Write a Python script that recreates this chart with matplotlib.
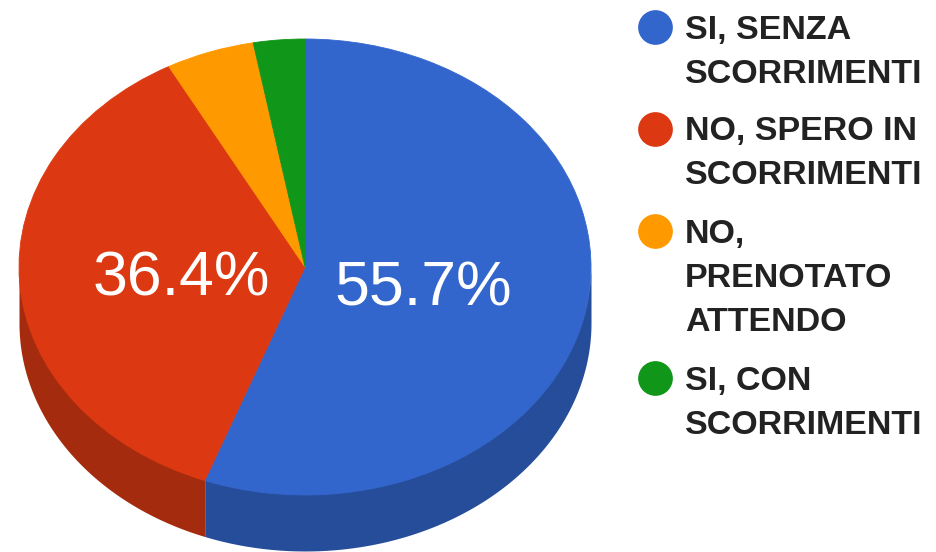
import numpy as np
import matplotlib
matplotlib.use("Agg")
import matplotlib.pyplot as plt

labels = ["SI, SENZA\nSCORRIMENTI", "NO, SPERO IN\nSCORRIMENTI", "NO,\nPRENOTATO\nATTENDO", "SI, CON\nSCORRIMENTI"]
values = [55.7, 36.4, 5.0, 2.9]
colors = ["#3366cc", "#dc3912", "#ff9900", "#109618"]
side_colors = ["#264d99", "#a52b0e", "#bf7300", "#0c7012"]
pct_labels = ["55.7%", "36.4%", "", ""]

W, H = 936, 552
cx, cy, rx, ry = 305, 267, 286, 228
depth = 56 / ry

fig = plt.figure(figsize=(W / 100, H / 100), dpi=100)
ax = fig.add_axes([0, 0, 1, 1])

# pie goes on a unit circle, the axes limits squash it to the ellipse
wedges, _ = ax.pie(values, colors=colors, startangle=90, counterclock=False, frame=True)
for w, col in zip(wedges, colors):
    w.set_edgecolor(col)
    w.set_linewidth(0.6)
ax.set_aspect("auto")
ax.set_xlim(-cx / rx, (W - cx) / rx)
ax.set_ylim((cy - H) / ry, cy / ry)
ax.axis("off")

# side wall of the slices in the front half, starts a bit under the top to hide the seam
ends = np.cumsum(values) / sum(values) * 2 * np.pi
starts = ends - np.array(values) / sum(values) * 2 * np.pi
for a, b, col in zip(starts, ends, side_colors):
    a = max(a, np.pi / 2)
    b = min(b, 3 * np.pi / 2)
    if b <= a:
        continue
    t = np.linspace(a, b, 200)
    ax.fill_between(np.sin(t), np.cos(t) + 0.02, np.cos(t) - depth, color=col, linewidth=0, zorder=0)

# percent labels
pct_xy = [(423, 282), (181, 272)]
for txt, (px, py) in zip(pct_labels, pct_xy):
    ax.text((px - cx) / rx, (cy - py) / ry, txt, color="white", fontsize=45,
            family="Liberation Sans", ha="center", va="center_baseline")

# legend, in pixel coords: dot centre, then baseline of the first line
dot_y = [26.5, 128.5, 231, 378]
base_y = [39, 140, 243, 390]
for lab, col, dy, by in zip(labels, colors, dot_y, base_y):
    ax.plot((654.5 - cx) / rx, (cy - dy) / ry, "o", ms=25, color=col, mew=0)
    for i, line in enumerate(lab.split("\n")):
        ax.text((685 - cx) / rx, (cy - by - i * 44) / ry, line, color="#222222", fontsize=24.5,
                family="Liberation Sans", weight="bold", ha="left", va="baseline")

fig.savefig("out.png", dpi=100)
